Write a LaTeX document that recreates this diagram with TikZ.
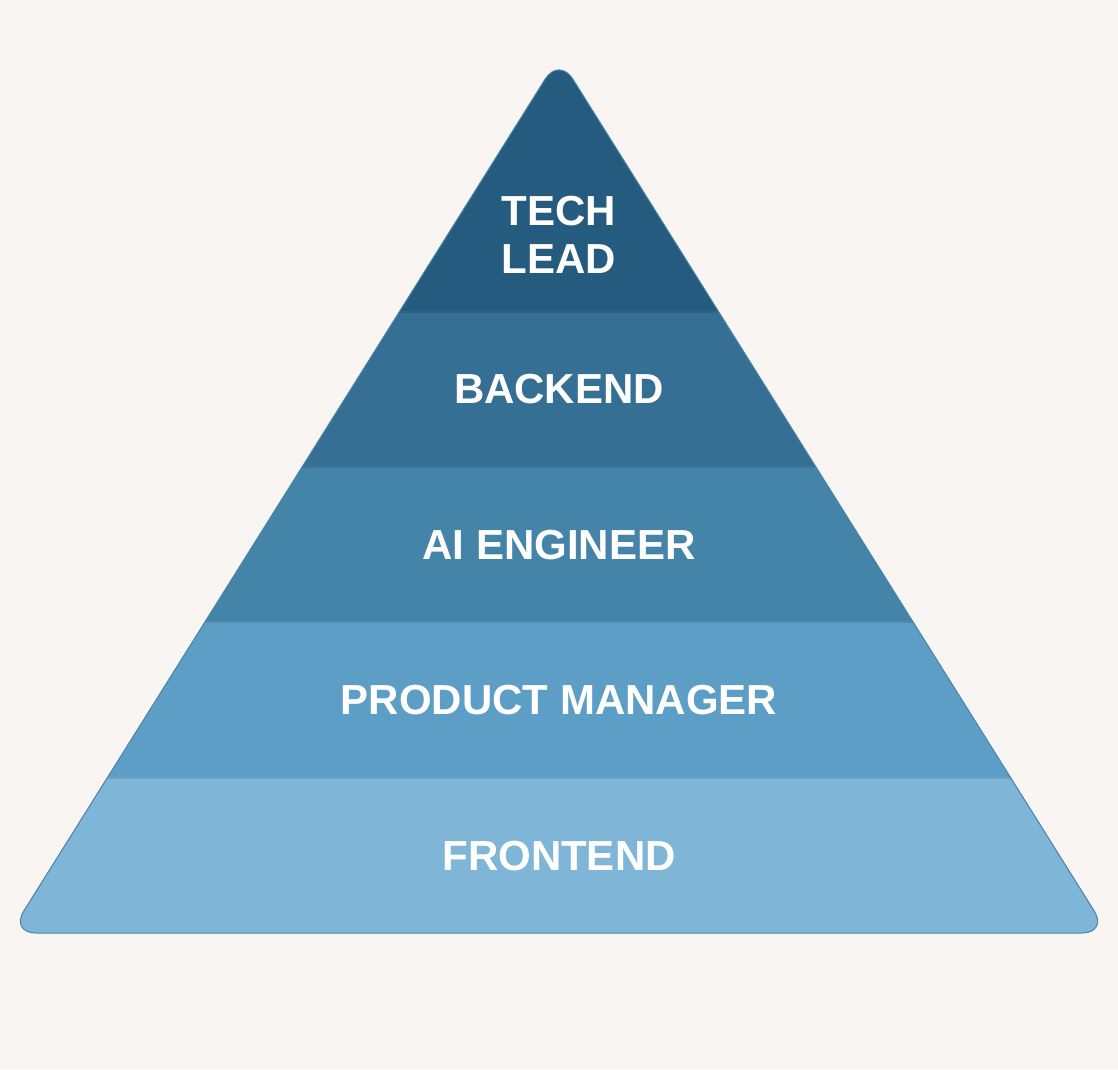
\documentclass[tikz,border=0pt]{standalone}
\usepackage{fontspec}
\setmainfont{Liberation Sans}
\usepackage{tikz}
\usetikzlibrary{calc,positioning}
\definecolor{paper}{HTML}{F8F5F3}
\definecolor{tierA}{HTML}{245B7F}
\definecolor{tierB}{HTML}{356F93}
\definecolor{tierC}{HTML}{4484A9}
\definecolor{tierD}{HTML}{5C9EC5}
\definecolor{tierE}{HTML}{7FB6D8}
\tikzset{
  tier/.style={font=\fontsize{42}{48}\selectfont\bfseries, text=white, align=center, inner sep=0pt},
  seam/.style={line width=1.2pt, draw=#1!88!black}
}

\begin{document}
\begin{tikzpicture}[x=1pt, y=-1pt]
          \fill[paper] (0, 0) rectangle (1118, 1069);
          \useasboundingbox (0, 0) rectangle (1118, 1069);

          \coordinate (apex) at (559, 57);
          \coordinate (left) at (10, 933);
          \coordinate (right) at (1108, 933);

          \begin{scope}
            \clip[rounded corners=26pt] (left) -- (apex) -- (right) -- cycle;
            \fill[tierA] (0, 40) rectangle (1118, 312);
            \fill[tierB] (0, 312) rectangle (1118, 467);
            \fill[tierC] (0, 467) rectangle (1118, 622);
            \fill[tierD] (0, 622) rectangle (1118, 778);
            \fill[tierE] (0, 778) rectangle (1118, 940);

            \draw[seam=tierB] (0, 312) -- (1118, 312);
            \draw[seam=tierC] (0, 467) -- (1118, 467);
            \draw[seam=tierD] (0, 622) -- (1118, 622);
            \draw[seam=tierE] (0, 778) -- (1118, 778);
          \end{scope}

          \draw[tierC, line width=1pt, rounded corners=26pt] (left) -- (apex) -- (right) -- cycle;

          \node[tier] (lead) at (559, 235) {TECH\\LEAD};
          \node[tier] (backend) at (559, 389) {BACKEND};
          \node[tier] (ai) at (559, 545) {AI ENGINEER};
          \node[tier] (pm) at (559, 700) {PRODUCT MANAGER};
          \node[tier] (frontend) at (559, 856) {FRONTEND};
        \end{tikzpicture}
\end{document}
